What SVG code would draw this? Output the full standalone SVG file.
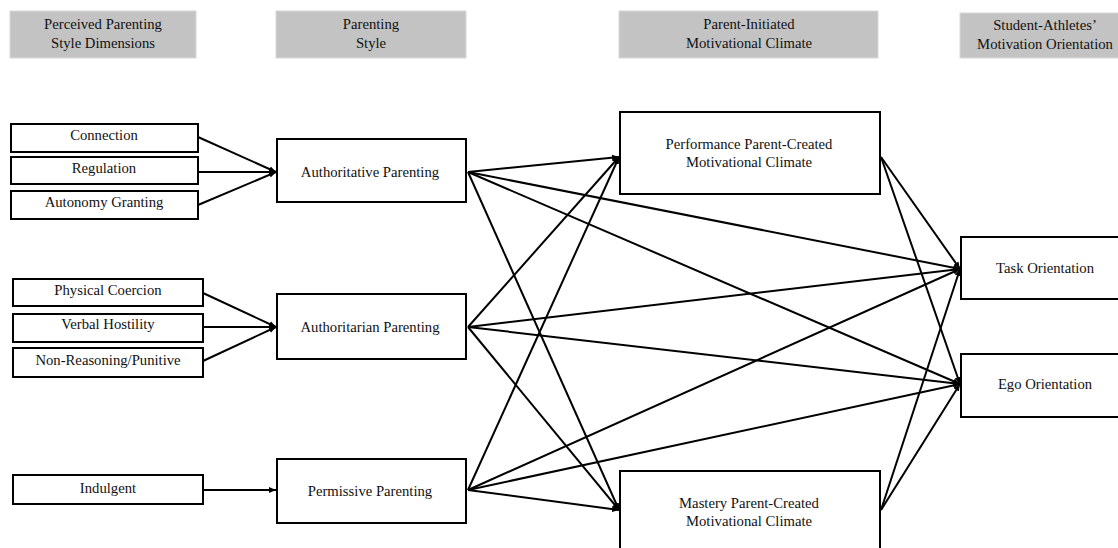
<svg xmlns="http://www.w3.org/2000/svg" width="1118" height="548" viewBox="0 0 1118 548">
<style>
.hdr{fill:#c3c3c3;stroke:#d8d8d8;stroke-width:1}
.box{fill:#fff;stroke:#000;stroke-width:2}
text{font-family:"Liberation Serif","Times New Roman",serif;font-size:14.7px;fill:#111;text-anchor:middle}
.edge{stroke:#000;stroke-width:2;fill:none;marker-end:url(#ah)}
</style>
<defs>
<marker id="ah" markerUnits="userSpaceOnUse" markerWidth="8" markerHeight="8" refX="7" refY="4" orient="auto">
<path d="M0,1 L7,4 L0,7 Z" fill="#000"/>
</marker>
</defs>
<rect width="1118" height="548" fill="#fff"/>
<g id="headers">
<g id="h1"><rect class="hdr" x="10" y="11" width="186" height="47"/><text x="103" y="29">Perceived Parenting</text><text x="103" y="48">Style Dimensions</text></g>
<g id="h2"><rect class="hdr" x="276" y="11" width="190" height="47"/><text x="371" y="29">Parenting</text><text x="371" y="48">Style</text></g>
<g id="h3"><rect class="hdr" x="619" y="11" width="259" height="47"/><text x="749" y="29">Parent-Initiated</text><text x="749" y="48">Motivational Climate</text></g>
<g id="h4"><rect class="hdr" x="960" y="13" width="170" height="45"/><text x="1045" y="30">Student-Athletes’</text><text x="1045" y="49">Motivation Orientation</text></g>
</g>
<g id="connectors">
<line class="edge" x1="198" y1="137" x2="276" y2="172"/>
<line class="edge" x1="198" y1="172" x2="276" y2="172"/>
<line class="edge" x1="198" y1="205" x2="276" y2="172"/>
<line class="edge" x1="203" y1="293" x2="276" y2="327"/>
<line class="edge" x1="203" y1="327" x2="276" y2="327"/>
<line class="edge" x1="203" y1="361" x2="276" y2="327"/>
<line class="edge" x1="203" y1="490" x2="276" y2="490"/>
<line class="edge" x1="468" y1="172" x2="619" y2="157"/>
<line class="edge" x1="468" y1="172" x2="619" y2="510"/>
<line class="edge" x1="468" y1="172" x2="960" y2="269"/>
<line class="edge" x1="468" y1="172" x2="960" y2="384"/>
<line class="edge" x1="468" y1="327" x2="619" y2="157"/>
<line class="edge" x1="468" y1="327" x2="619" y2="510"/>
<line class="edge" x1="468" y1="327" x2="960" y2="269"/>
<line class="edge" x1="468" y1="327" x2="960" y2="384"/>
<line class="edge" x1="468" y1="490" x2="619" y2="157"/>
<line class="edge" x1="468" y1="490" x2="619" y2="510"/>
<line class="edge" x1="468" y1="490" x2="960" y2="269"/>
<line class="edge" x1="468" y1="490" x2="960" y2="384"/>
<line class="edge" x1="881" y1="157" x2="960" y2="269"/>
<line class="edge" x1="881" y1="157" x2="960" y2="384"/>
<line class="edge" x1="881" y1="510" x2="960" y2="269"/>
<line class="edge" x1="881" y1="510" x2="960" y2="384"/>
</g>
<g id="connection"><rect class="box" x="11" y="124" width="187" height="28"/><text x="104" y="140">Connection</text></g>
<g id="regulation"><rect class="box" x="11" y="157" width="187" height="27"/><text x="104" y="173">Regulation</text></g>
<g id="autonomy"><rect class="box" x="11" y="191" width="187" height="28"/><text x="104" y="207">Autonomy Granting</text></g>
<g id="physical"><rect class="box" x="13" y="279" width="190" height="27"/><text x="108" y="295">Physical Coercion</text></g>
<g id="verbal"><rect class="box" x="13" y="314" width="190" height="28"/><text x="108" y="329">Verbal Hostility</text></g>
<g id="nonreasoning"><rect class="box" x="13" y="348" width="190" height="29"/><text x="108" y="365">Non-Reasoning/Punitive</text></g>
<g id="indulgent"><rect class="box" x="13" y="475" width="190" height="29"/><text x="108" y="493">Indulgent</text></g>
<g id="authoritative"><rect class="box" x="277" y="139" width="189" height="63"/><text x="370" y="177">Authoritative Parenting</text></g>
<g id="authoritarian"><rect class="box" x="277" y="294" width="189" height="65"/><text x="370" y="332">Authoritarian Parenting</text></g>
<g id="permissive"><rect class="box" x="277" y="459" width="189" height="64"/><text x="370" y="496">Permissive Parenting</text></g>
<g id="performance"><rect class="box" x="620" y="112" width="260" height="82"/><text x="749" y="149">Performance Parent-Created</text><text x="749" y="167">Motivational Climate</text></g>
<g id="mastery"><rect class="box" x="620" y="471" width="260" height="84"/><text x="749" y="508">Mastery Parent-Created</text><text x="749" y="526">Motivational Climate</text></g>
<g id="task"><rect class="box" x="961" y="237" width="168" height="62"/><text x="1045" y="273">Task Orientation</text></g>
<g id="ego"><rect class="box" x="961" y="354" width="168" height="63"/><text x="1045" y="389">Ego Orientation</text></g>
</svg>
